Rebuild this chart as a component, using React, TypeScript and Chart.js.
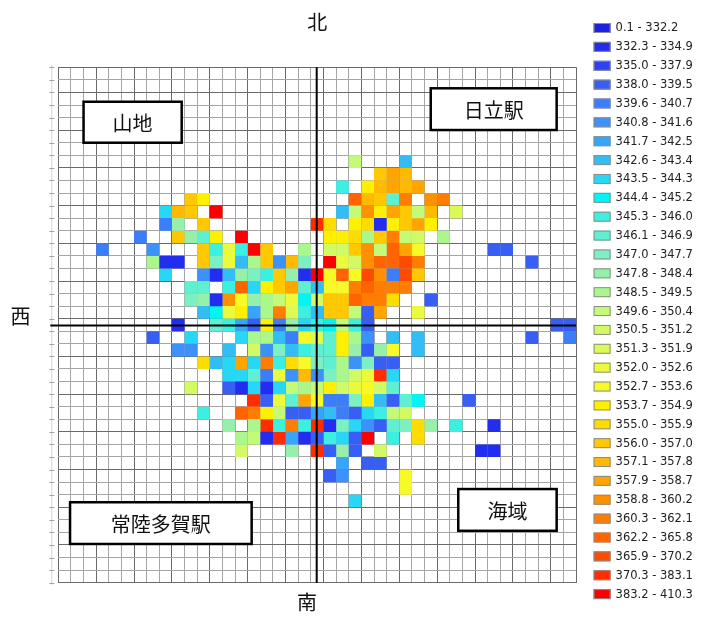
import React, { useEffect, useRef } from 'react';
import { Chart, registerables } from 'chart.js';

Chart.register(...registerables);

const GRID_N = 41;
const BIN_CODES = '0123456789abcdefghijklmnopqrstu';

const legendLabels = [
  '0.1 - 332.2', '332.3 - 334.9', '335.0 - 337.9', '338.0 - 339.5', '339.6 - 340.7',
  '340.8 - 341.6', '341.7 - 342.5', '342.6 - 343.4', '343.5 - 344.3', '344.4 - 345.2',
  '345.3 - 346.0', '346.1 - 346.9', '347.0 - 347.7', '347.8 - 348.4', '348.5 - 349.5',
  '349.6 - 350.4', '350.5 - 351.2', '351.3 - 351.9', '352.0 - 352.6', '352.7 - 353.6',
  '353.7 - 354.9', '355.0 - 355.9', '356.0 - 357.0', '357.1 - 357.8', '357.9 - 358.7',
  '358.8 - 360.2', '360.3 - 362.1', '362.2 - 365.8', '365.9 - 370.2', '370.3 - 383.1',
  '383.2 - 410.3',
];

const binColors = [
  '#2020e0', '#232df0', '#2d41f0', '#375ff5', '#3c7dfa',
  '#3c91fa', '#37a5fa', '#32bef5', '#28d7f5', '#00f5f5',
  '#3cf0e1', '#5ff0d2', '#7df0c3', '#96f0aa', '#aaf88c',
  '#c3fa78', '#d2fa64', '#dcfa55', '#ebfa3c', '#f8fa28',
  '#fff000', '#ffdc00', '#ffc800', '#ffb900', '#ffa500',
  '#ff9100', '#ff7d00', '#ff6400', '#ff4b00', '#ff2d00',
  '#ff0000',
];

// one string per grid row (north to south), one char per column (west to east);
// '.' = no value, otherwise the class code from BIN_CODES
const cellRows = [
  '.........................................',
  '.........................................',
  '.........................................',
  '.........................................',
  '.........................................',
  '.........................................',
  '.........................................',
  '.......................f...7.............',
  '.........................mon.............',
  '......................a.knono............',
  '..........mk...........rnmbq.pq..........',
  '........8nm.u.........7fpkomfn.h.........',
  '........4d.m........tl.kl1kmok...........',
  '......4..mdbk.u......kklemqfg.e..........',
  '...4...5...maiaum..e.ggmpfroj.....33.....',
  '.......e11.mci7em5nc.uigprrsq........3...',
  '........8..517dcamd1ujrjsp4sm............',
  '..........bb.ar8kmob7jjqrqqq.............',
  '..........cd1pjdefi9gmmrqql..3...........',
  '...........79ik6eqha7mmf3o..i............',
  '.........1..ba63k4d8a9fa3..............33',
  '.......3..8...8ee74jhbke5.7.7........3..4',
  '.........55..7.g5c7abbkd3dj.7............',
  '...........l78o8qaljcbe5c33..............',
  '.............88b4i5n5cegit8..............',
  '..........g..31818fefkgijgb..............',
  '...............t3iboj44ck73b9...3........',
  '...........a..rqkf3367438afg.............',
  '.............d.etaqat1c853bcld.a..1......',
  '..............ef1t613a83u.a.l............',
  '..............g...d.t3d3.g.......11......',
  '......................6.33...............',
  '.....................35....j.............',
  '...........................j.............',
  '.......................8.................',
  '.........................................',
  '.........................................',
  '.........................................',
  '.........................................',
  '.........................................',
  '.........................................',
];

const compassLabels = [
  { text: '北', x: 20.5, y: -3.6 },
  { text: '南', x: 19.7, y: 42.6 },
  { text: '西', x: -3.0, y: 19.8 },
];

const placeBoxes = [
  { text: '山地', x0: 2.0, x1: 9.77, y0: 2.74, y1: 6.0 },
  { text: '日立駅', x0: 29.49, x1: 39.46, y0: 1.67, y1: 4.99 },
  { text: '常陸多賀駅', x0: 0.93, x1: 15.31, y0: 34.6, y1: 37.92 },
  { text: '海域', x0: 31.67, x1: 39.46, y0: 33.55, y1: 36.87 },
];

function cellRadius(ctx: any) {
  const s = ctx.chart.scales.x;
  return Math.abs(s.getPixelForValue(1) - s.getPixelForValue(0)) / Math.SQRT2;
}

function buildDatasets() {
  return binColors.map((color, b) => {
    const code = BIN_CODES[b];
    const data: { x: number; y: number }[] = [];
    cellRows.forEach((row, r) => {
      for (let c = 0; c < row.length; c++) {
        if (row[c] === code) data.push({ x: c + 0.5, y: r + 0.5 });
      }
    });
    return {
      label: legendLabels[b],
      data,
      backgroundColor: color,
      borderWidth: 0,
      pointStyle: 'rect' as const,
      pointRadius: cellRadius,
      pointHoverRadius: cellRadius,
      pointBorderWidth: 0,
    };
  });
}

const overlayPlugin = {
  id: 'overlay',
  afterDraw(chart: any) {
    const { ctx, chartArea, scales } = chart;
    const xs = scales.x;
    const ys = scales.y;
    ctx.save();

    // left ruler
    ctx.strokeStyle = '#d4d4d4';
    ctx.lineWidth = 1;
    ctx.beginPath();
    ctx.moveTo(chartArea.left - 6.5, chartArea.top - 2);
    ctx.lineTo(chartArea.left - 6.5, chartArea.bottom + 2);
    ctx.stroke();
    ctx.strokeStyle = '#a0a0a0';
    for (let i = 0; i <= GRID_N; i++) {
      const y = Math.round(ys.getPixelForValue(i)) + 0.5;
      ctx.beginPath();
      ctx.moveTo(chartArea.left - 9, y);
      ctx.lineTo(chartArea.left - 4, y);
      ctx.stroke();
    }

    // main axes through the centre cell
    const cx = xs.getPixelForValue(GRID_N / 2) - 0.5;
    const cy = ys.getPixelForValue(GRID_N / 2) + 0.5;
    ctx.strokeStyle = '#000';
    ctx.lineWidth = 2;
    ctx.beginPath();
    ctx.moveTo(cx, chartArea.top);
    ctx.lineTo(cx, chartArea.bottom);
    ctx.stroke();
    ctx.beginPath();
    ctx.moveTo(chartArea.left - 8, cy);
    ctx.lineTo(chartArea.right, cy);
    ctx.stroke();

    // place-name boxes
    ctx.textAlign = 'center';
    ctx.textBaseline = 'middle';
    placeBoxes.forEach((b) => {
      const x0 = xs.getPixelForValue(b.x0);
      const x1 = xs.getPixelForValue(b.x1);
      const y0 = ys.getPixelForValue(b.y0);
      const y1 = ys.getPixelForValue(b.y1);
      ctx.fillStyle = '#fff';
      ctx.fillRect(x0, y0, x1 - x0, y1 - y0);
      ctx.strokeStyle = '#000';
      ctx.lineWidth = 2.5;
      ctx.strokeRect(x0, y0, x1 - x0, y1 - y0);
      ctx.fillStyle = '#111';
      ctx.font = '20px "Noto Sans CJK JP"';
      ctx.fillText(b.text, (x0 + x1) / 2, (y0 + y1) / 2 + 1);
    });

    // compass labels
    compassLabels.forEach((l) => {
      ctx.fillStyle = '#111';
      ctx.font = '20px "Noto Sans CJK JP"';
      ctx.fillText(l.text, xs.getPixelForValue(l.x), ys.getPixelForValue(l.y));
    });

    // legend
    const lx = chartArea.right + 17.5;
    const ly0 = 28;
    const step = 18.87;
    ctx.textAlign = 'left';
    ctx.font = '11.5px "DejaVu Sans"';
    legendLabels.forEach((label, i) => {
      const yc = ly0 + i * step;
      ctx.fillStyle = binColors[i];
      ctx.fillRect(lx, yc - 5, 17, 10);
      ctx.strokeStyle = '#8c8c8c';
      ctx.lineWidth = 1;
      ctx.strokeRect(lx + 0.5, yc - 4.5, 16, 9);
      ctx.fillStyle = '#222';
      ctx.fillText(label, lx + 22, yc + 0.5);
    });
    ctx.restore();
  },
};

export default function App() {
  const canvasRef = useRef<HTMLCanvasElement | null>(null);

  useEffect(() => {
    document.body.style.margin = '0';
    const canvas = canvasRef.current;
    if (!canvas) return;
    const dark = '#6a6a6a';
    const light = '#a6a6a6';
    const xGrid = (ctx: any) => {
      const v = ctx.tick ? ctx.tick.value : 0;
      return v % 3 === 0 || v === GRID_N ? dark : light;
    };
    const yGrid = (ctx: any) => {
      const v = ctx.tick ? ctx.tick.value : 0;
      return v % 3 === 2 || v === 0 ? dark : light;
    };
    const chart = new Chart(canvas, {
      type: 'scatter',
      data: { datasets: buildDatasets() as any },
      options: {
        animation: false,
        responsive: true,
        maintainAspectRatio: false,
        events: [],
        layout: { padding: { left: 58.3, top: 67.3, right: 138.9, bottom: 35.3 } },
        plugins: { legend: { display: false }, tooltip: { enabled: false } },
        scales: {
          x: {
            type: 'linear',
            min: 0,
            max: GRID_N,
            z: 1,
            ticks: { stepSize: 1, display: false },
            grid: { color: xGrid, lineWidth: 1, drawTicks: false },
            border: { display: false },
            afterFit: (s: any) => { s.height = 0; },
          },
          y: {
            type: 'linear',
            reverse: true,
            min: 0,
            max: GRID_N,
            z: 1,
            ticks: { stepSize: 1, display: false },
            grid: { color: yGrid, lineWidth: 1, drawTicks: false },
            border: { display: false },
            afterFit: (s: any) => { s.width = 0; },
          },
        },
      },
      plugins: [overlayPlugin],
    });
    return () => chart.destroy();
  }, []);

  return (
    <div style={{ position: 'relative', width: 715, height: 618 }}>
      <canvas ref={canvasRef} />
    </div>
  );
}
